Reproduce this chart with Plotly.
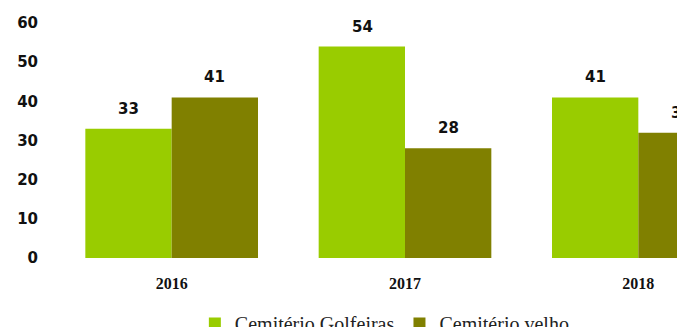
import plotly.graph_objects as go

categories = ["2016", "2017", "2018"]
golfeiras = [33, 54, 41]
velho = [41, 28, 32]
series_names = ["Cemitério Golfeiras", "Cemitério velho"]
colors = ["#99CC00", "#808000"]
y_ticks = [0, 10, 20, 30, 40, 50, 60]

fig = go.Figure()
for name, vals, color in [(series_names[0], golfeiras, colors[0]),
                          (series_names[1], velho, colors[1])]:
    fig.add_trace(go.Bar(
        x=categories, y=vals, name=name, marker=dict(color=color, line=dict(width=0)),
    ))

# value labels above bars (x given as category index)
for vals, shift in [(golfeiras, -43), (velho, 43)]:
    for i, v in enumerate(vals):
        fig.add_annotation(x=i, y=v, xref="x", yref="y", text=str(v), showarrow=False,
                           xshift=shift, yshift=20, yanchor="middle",
                           font=dict(family="DejaVu Sans", size=15, color="#111111", weight="bold"))

fig.update_layout(
    width=677, height=319,
    margin=dict(l=47, r=0, t=15, b=69, autoexpand=False),
    paper_bgcolor="white", plot_bgcolor="white",
    barmode="group", bargap=0.26, bargroupgap=0,
    showlegend=True,
    legend=dict(orientation="h", x=0.222, xanchor="left", y=-0.196, yanchor="top",
                font=dict(family="Liberation Serif", size=20, color="#222222"),
                traceorder="normal", tracegroupgap=0),
    xaxis=dict(type="category", range=[-0.5, 2.2], showgrid=False, showline=False, ticks="",
               automargin=False, ticklabelstandoff=14,
               tickfont=dict(family="Liberation Serif", size=16, color="#111111", weight="bold")),
    yaxis=dict(range=[0, 60], tickvals=y_ticks, showgrid=False, zeroline=False, automargin=False,
               showline=False, ticks="", ticklabelstandoff=16,
               tickfont=dict(family="DejaVu Sans", size=15, color="#111111", weight="bold")),
)
fig.write_html("out.html")
